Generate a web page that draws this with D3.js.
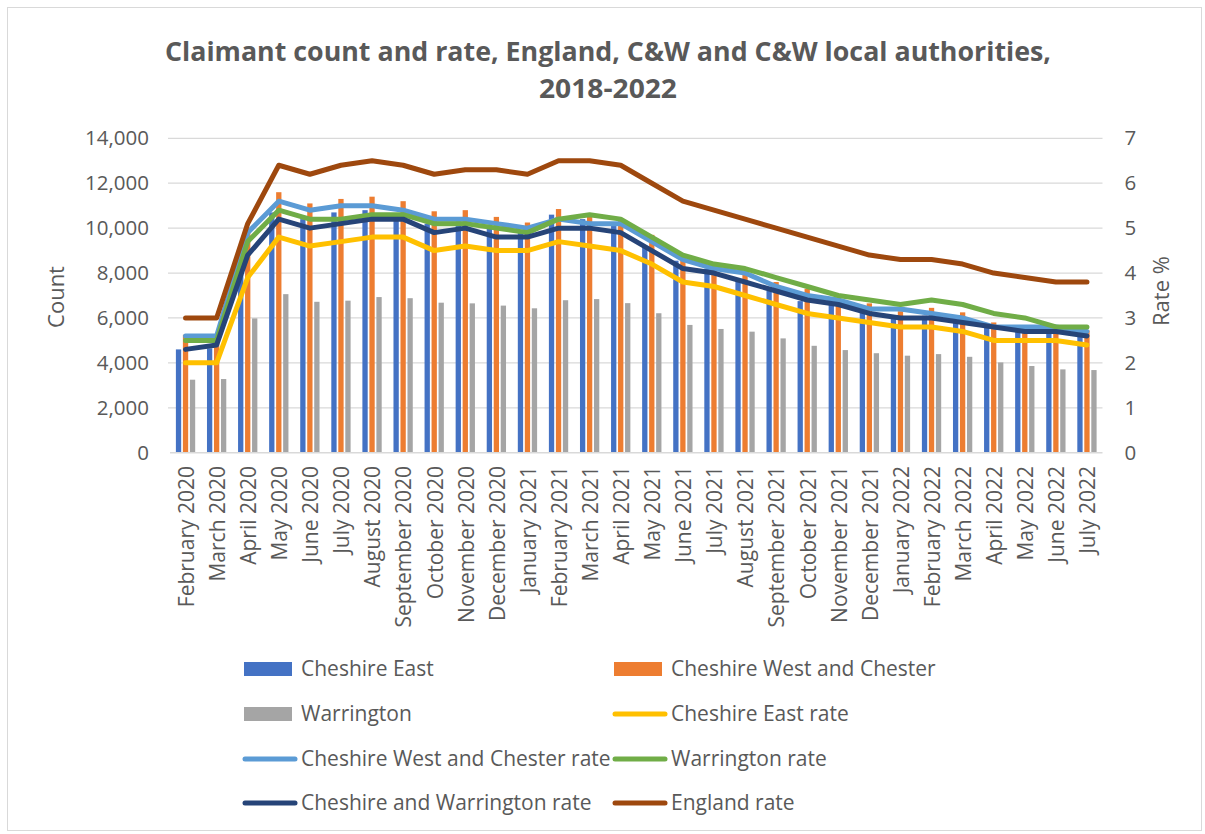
<!DOCTYPE html>
<html lang="en">
<head>
<meta charset="UTF-8">
<title>Claimant count and rate</title>
<script src="https://d3js.org/d3.v7.min.js"></script>
<style>
    body {margin: 0; background: #fff;}
    svg text {font-family: "Open Sans", sans-serif; fill: #595959;}
    .grid line {stroke: #d9d9d9; stroke-width: 1.3;}
</style>
</head>
<body>
<div id="chart"></div>
<script>
    // months on the x axis
    var months = ["February 2020","March 2020","April 2020","May 2020","June 2020","July 2020",
        "August 2020","September 2020","October 2020","November 2020","December 2020","January 2021",
        "February 2021","March 2021","April 2021","May 2021","June 2021","July 2021","August 2021",
        "September 2021","October 2021","November 2021","December 2021","January 2022","February 2022",
        "March 2022","April 2022","May 2022","June 2022","July 2022"];

    // claimant counts (bars, left axis)
    var cheshireEast = [4600,4650,8800,10700,10400,10700,10800,10500,10200,10300,10000,9900,
        10600,10400,10100,9200,8550,8200,7700,7200,6750,6650,6300,6100,6100,5800,5600,5450,5400,5200];
    var cheshireWest = [5250,5250,9900,11600,11100,11300,11400,11200,10750,10800,10500,10250,
        10850,10500,10450,9700,8700,8300,8100,7600,7300,6900,6650,6300,6450,6250,5800,5650,5600,5450];
    var warrington = [3250,3280,5980,7060,6720,6770,6930,6880,6680,6650,6550,6430,
        6790,6840,6660,6210,5690,5510,5390,5090,4760,4570,4430,4320,4390,4270,4020,3860,3710,3680];

    // claimant rates (lines, right axis)
    var cheshireEastRate = [2.0,2.0,3.9,4.8,4.6,4.7,4.8,4.8,4.5,4.6,4.5,4.5,4.7,4.6,4.5,4.2,
        3.8,3.7,3.5,3.3,3.1,3.0,2.9,2.8,2.8,2.7,2.5,2.5,2.5,2.4];
    var cheshireWestRate = [2.6,2.6,4.9,5.6,5.4,5.5,5.5,5.4,5.2,5.2,5.1,5.0,5.2,5.1,5.1,4.7,
        4.3,4.1,4.0,3.7,3.5,3.4,3.2,3.2,3.1,3.0,2.8,2.8,2.8,2.7];
    var warringtonRate = [2.5,2.5,4.7,5.4,5.2,5.2,5.3,5.3,5.1,5.1,5.0,4.9,5.2,5.3,5.2,4.8,
        4.4,4.2,4.1,3.9,3.7,3.5,3.4,3.3,3.4,3.3,3.1,3.0,2.8,2.8];
    var cwRate = [2.3,2.4,4.4,5.2,5.0,5.1,5.2,5.2,4.9,5.0,4.8,4.8,5.0,5.0,4.9,4.5,
        4.1,4.0,3.8,3.6,3.4,3.3,3.1,3.0,3.0,2.9,2.8,2.7,2.7,2.6];
    var englandRate = [3.0,3.0,5.1,6.4,6.2,6.4,6.5,6.4,6.2,6.3,6.3,6.2,6.5,6.5,6.4,6.0,
        5.6,5.4,5.2,5.0,4.8,4.6,4.4,4.3,4.3,4.2,4.0,3.9,3.8,3.8];

    var countTicks = [0,2000,4000,6000,8000,10000,12000,14000];
    var rateTicks = [0,1,2,3,4,5,6,7];

    var barSeries = [
        {name: "Cheshire East", values: cheshireEast, color: "#4472C4"},
        {name: "Cheshire West and Chester", values: cheshireWest, color: "#ED7D31"},
        {name: "Warrington", values: warrington, color: "#A5A5A5"}
    ];
    var lineSeries = [
        {name: "Cheshire East rate", values: cheshireEastRate, color: "#FFC000"},
        {name: "Cheshire West and Chester rate", values: cheshireWestRate, color: "#5B9BD5"},
        {name: "Warrington rate", values: warringtonRate, color: "#70AD47"},
        {name: "Cheshire and Warrington rate", values: cwRate, color: "#264478"},
        {name: "England rate", values: englandRate, color: "#9E480E"}
    ];

    var W = 1205, H = 834;
    var plot = {left: 170, right: 1102.5, top: 138.3, bottom: 452.7};

    var svg = d3.select("#chart").append("svg")
        .attr("width", W).attr("height", H);

    svg.append("rect")
        .attr("x", 7.5).attr("y", 7.5)
        .attr("width", 1194).attr("height", 823)
        .attr("fill", "#fff").attr("stroke", "#d9d9d9");

    // title
    svg.append("text").attr("x", 608).attr("y", 61)
        .attr("text-anchor", "middle")
        .style("font-size", "27px").style("font-weight", "bold")
        .attr("textLength", 886).attr("lengthAdjust", "spacingAndGlyphs")
        .text("Claimant count and rate, England, C&W and C&W local authorities,");
    svg.append("text").attr("x", 608).attr("y", 98)
        .attr("text-anchor", "middle")
        .style("font-size", "27px").style("font-weight", "bold")
        .attr("textLength", 138).attr("lengthAdjust", "spacingAndGlyphs")
        .text("2018-2022");

    var x = d3.scaleBand().domain(months).range([plot.left, plot.right]);
    var xSub = d3.scaleBand().domain(barSeries.map(function(d) {return d.name}))
        .range([-9.65, 9.65]).paddingInner(0.243);
    var y = d3.scaleLinear().domain([0, 14000]).range([plot.bottom, plot.top]);
    var y2 = d3.scaleLinear().domain([0, 7]).range([plot.bottom, plot.top]);

    // gridlines
    svg.append("g").attr("class", "grid")
        .selectAll("line").data(countTicks.slice(1)).enter().append("line")
        .attr("x1", plot.left - 2).attr("x2", plot.right)
        .attr("y1", function(d) {return y(d)}).attr("y2", function(d) {return y(d)});

    // left axis
    var yAxis = svg.append("g")
        .attr("transform", "translate(" + (plot.left - 21) + ",0)")
        .call(d3.axisLeft(y).tickValues(countTicks).tickSize(0).tickPadding(0)
            .tickFormat(d3.format(",")));
    yAxis.select(".domain").remove();
    yAxis.selectAll("text").style("font-size", "20.5px").style("font-family", "'Open Sans', sans-serif")
        .attr("fill", "#595959");

    // right axis
    var y2Axis = svg.append("g")
        .attr("transform", "translate(" + (plot.right + 22) + ",0)")
        .call(d3.axisRight(y2).tickValues(rateTicks).tickSize(0).tickPadding(0)
            .tickFormat(d3.format("d")));
    y2Axis.select(".domain").remove();
    y2Axis.selectAll("text").style("font-size", "20.5px").style("font-family", "'Open Sans', sans-serif")
        .attr("fill", "#595959");

    // axis titles
    svg.append("text")
        .attr("transform", "translate(64,297) rotate(-90)")
        .attr("text-anchor", "middle")
        .style("font-size", "22px").text("Count");
    svg.append("text")
        .attr("transform", "translate(1169,291) rotate(-90)")
        .attr("text-anchor", "middle")
        .style("font-size", "22px").text("Rate %");

    // bars
    var bars = svg.append("g");
    barSeries.forEach(function(s) {
        bars.append("g").selectAll("rect")
            .data(s.values).enter().append("rect")
            .attr("x", function(d, i) {return x(months[i]) + x.bandwidth() / 2 + xSub(s.name)})
            .attr("width", xSub.bandwidth())
            .attr("y", function(d) {return y(d)})
            .attr("height", function(d) {return y(0) - y(d)})
            .attr("fill", s.color);
    });

    // x axis line
    svg.append("line")
        .attr("x1", plot.left).attr("x2", plot.right)
        .attr("y1", plot.bottom).attr("y2", plot.bottom)
        .attr("stroke", "#d9d9d9").attr("stroke-width", 1.5);

    // x labels
    svg.append("g").selectAll("text")
        .data(months).enter().append("text")
        .attr("transform", function(d) {
            return "translate(" + (x(d) + x.bandwidth() / 2 + 1) + ",466) rotate(-90)";
        })
        .attr("text-anchor", "end")
        .attr("dy", "0.35em")
        .style("font-size", "21px")
        .text(function(d) {return d});

    // lines
    var line = d3.line()
        .x(function(d, i) {return x(months[i]) + x.bandwidth() / 2})
        .y(function(d) {return y2(d)});
    lineSeries.forEach(function(s) {
        svg.append("path")
            .datum(s.values)
            .attr("d", line)
            .attr("fill", "none")
            .attr("stroke", s.color)
            .attr("stroke-width", 5)
            .attr("stroke-linejoin", "round")
            .attr("stroke-linecap", "round");
    });

    // legend
    var legendItems = [
        {s: barSeries[0], type: "bar"}, {s: barSeries[1], type: "bar"},
        {s: barSeries[2], type: "bar"}, {s: lineSeries[0], type: "line"},
        {s: lineSeries[1], type: "line"}, {s: lineSeries[2], type: "line"},
        {s: lineSeries[3], type: "line"}, {s: lineSeries[4], type: "line"}
    ];
    var colX = [243, 613], rowY = [669, 714, 759, 803];
    var legend = svg.append("g").selectAll("g")
        .data(legendItems).enter().append("g")
        .attr("transform", function(d, i) {
            return "translate(" + colX[i % 2] + "," + rowY[Math.floor(i / 2)] + ")";
        });
    legend.each(function(d) {
        var g = d3.select(this);
        if (d.type === "bar") {
            g.append("rect").attr("x", 1).attr("y", -7).attr("width", 48).attr("height", 14)
                .attr("fill", d.s.color);
        } else {
            g.append("line").attr("x1", 2).attr("x2", 52).attr("y1", 0).attr("y2", 0)
                .attr("stroke", d.s.color).attr("stroke-width", 5)
                .attr("stroke-linecap", "round");
        }
        g.append("text").attr("x", 58).attr("dy", "0.35em")
            .style("font-size", "21px").text(d.s.name);
    });
</script>
</body>
</html>
